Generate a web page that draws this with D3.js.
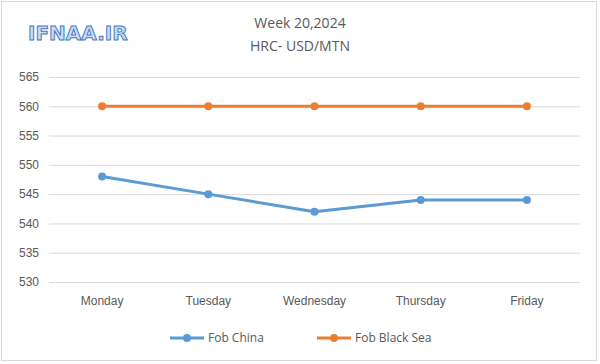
<!DOCTYPE html>
<html>
<head>
<meta charset="utf-8">
<script src="https://cdn.jsdelivr.net/npm/d3@7"></script>
<style>
  body { margin: 0; background: #fff; }
  svg { display: block; font-family: "Open Sans", "DejaVu Sans", sans-serif; }
</style>
</head>
<body>
<svg id="chart"></svg>
<script>
const days = ["Monday", "Tuesday", "Wednesday", "Thursday", "Friday"];
const fobChina = [548, 545, 542, 544, 544];
const fobBlackSea = [560, 560, 560, 560, 560];
const yTicks = [530, 535, 540, 545, 550, 555, 560, 565];

const width = 600, height = 364;
const margin = { left: 49, right: 20, top: 77, bottom: 82 };

const svg = d3.select("#chart").attr("width", width).attr("height", height);

// outer frame
svg.append("rect")
  .attr("x", 1.5).attr("y", 1.5)
  .attr("width", width - 5).attr("height", height - 5)
  .attr("fill", "#fff").attr("stroke", "#d9d9d9");

const x = d3.scaleBand().domain(days).range([margin.left, width - margin.right]);
const y = d3.scaleLinear().domain([530, 565]).range([height - margin.bottom, margin.top]);

// gridlines + y labels
const yAxis = d3.axisLeft(y).tickValues(yTicks).tickSize(-(width - margin.left - margin.right)).tickPadding(10);
const gy = svg.append("g").attr("transform", `translate(${margin.left},0)`).call(yAxis);
gy.select(".domain").remove();
gy.selectAll(".tick line").attr("stroke", "#d9d9d9");
gy.selectAll(".tick text").attr("fill", "#595959").style("font-size", "12px");

// x labels
const xAxis = d3.axisBottom(x).tickSize(0).tickPadding(14);
const gx = svg.append("g").attr("transform", `translate(0,${y(530)})`).call(xAxis);
gx.select(".domain").remove();
gx.selectAll(".tick text").attr("fill", "#595959").style("font-size", "12px");

const series = [
  { name: "Fob China", values: fobChina, color: "#5b9bd5" },
  { name: "Fob Black Sea", values: fobBlackSea, color: "#ed7d31" }
];

const line = d3.line()
  .x((d, i) => x(days[i]) + x.bandwidth() / 2)
  .y(d => y(d));

series.forEach(s => {
  svg.append("path")
    .datum(s.values)
    .attr("d", line)
    .attr("fill", "none")
    .attr("stroke", s.color)
    .attr("stroke-width", 3)
    .attr("stroke-linejoin", "round");
  svg.selectAll(null)
    .data(s.values)
    .enter()
    .append("circle")
    .attr("cx", (d, i) => x(days[i]) + x.bandwidth() / 2)
    .attr("cy", d => y(d))
    .attr("r", 4)
    .attr("fill", s.color);
});

// title
svg.append("text")
  .attr("x", 300).attr("y", 28)
  .attr("text-anchor", "middle")
  .attr("fill", "#595959")
  .style("font-size", "14px")
  .text("Week 20,2024");
svg.append("text")
  .attr("x", 300).attr("y", 51)
  .attr("text-anchor", "middle")
  .attr("fill", "#595959")
  .style("font-size", "14px")
  .text("HRC- USD/MTN");

// logo
svg.append("text")
  .attr("x", 28).attr("y", 40)
  .attr("fill", "#c9dcf2")
  .attr("stroke", "#4a78c2")
  .attr("stroke-width", 1)
  .style("font-size", "20px")
  .style("font-weight", "bold")
  .style("font-family", "'DejaVu Sans', sans-serif")
  .text("IFNAA.IR");

// legend
const legendX = [170, 317];
series.forEach((s, i) => {
  const g = svg.append("g").attr("transform", `translate(${legendX[i]},338)`);
  g.append("line").attr("x1", 0).attr("x2", 34).attr("y1", 0).attr("y2", 0)
    .attr("stroke", s.color).attr("stroke-width", 3);
  g.append("circle").attr("cx", 17).attr("cy", 0).attr("r", 4).attr("fill", s.color);
  g.append("text").attr("x", 38).attr("y", 4)
    .attr("fill", "#595959").style("font-size", "12px").text(s.name);
});
</script>
</body>
</html>
